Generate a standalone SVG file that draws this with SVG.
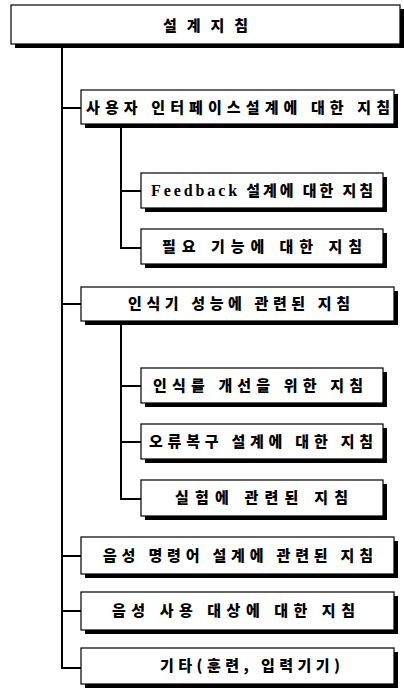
<svg xmlns="http://www.w3.org/2000/svg" width="404" height="690" viewBox="0 0 404 690">
<style>
.sh{fill:#000}
.bx{fill:#fff;stroke:#000;stroke-width:1.2}
.t{font-family:"Noto Sans CJK KR","Noto Sans",sans-serif;font-weight:900;font-size:15px;fill:#000}
.ser{font-family:"Liberation Serif","Noto Serif",serif;font-weight:700;font-size:16px}
.ln{stroke:#000;stroke-width:2;fill:none}
</style>
<rect width="404" height="690" fill="#fff"/>
<g id="connectors">
<path class="ln" d="M62 44 V668 H81"/>
<path class="ln" d="M62 108 H81 M62 304 H81 M62 556 H81 M62 611 H81"/>
<path class="ln" d="M121 124 V248 H141 M121 191 H141"/>
<path class="ln" d="M121 321 V499 H141 M121 386 H141 M121 442 H141"/>
</g>
<g id="n0"><rect class="sh" x="15" y="9" width="389" height="39"/><rect class="bx" x="11" y="5" width="389" height="39"/><text class="t" x="163" y="31" font-size="17" textLength="85" lengthAdjust="spacing">설계지침</text></g>
<g id="n1"><rect class="sh" x="85" y="94" width="313" height="34"/><rect class="bx" x="81" y="90" width="313" height="34"/><text class="t" x="86" y="113" textLength="304" lengthAdjust="spacing">사용자 인터페이스설계에 대한 지침</text></g>
<g id="n1a"><rect class="sh" x="145" y="177" width="242" height="35"/><rect class="bx" x="141" y="173" width="242" height="35"/><text class="t" x="151" y="196" textLength="222" lengthAdjust="spacing"><tspan class="ser">Feedback</tspan> 설계에 대한 지침</text></g>
<g id="n1b"><rect class="sh" x="145" y="233" width="242" height="35"/><rect class="bx" x="141" y="229" width="242" height="35"/><text class="t" x="162" y="252" textLength="200" lengthAdjust="spacing">필요 기능에 대한 지침</text></g>
<g id="n2"><rect class="sh" x="85" y="291" width="313" height="34"/><rect class="bx" x="81" y="287" width="313" height="34"/><text class="t" x="128" y="309" textLength="222" lengthAdjust="spacing">인식기 성능에 관련된 지침</text></g>
<g id="n2a"><rect class="sh" x="145" y="372" width="242" height="35"/><rect class="bx" x="141" y="368" width="242" height="35"/><text class="t" x="153" y="391" textLength="210" lengthAdjust="spacing">인식률 개선을 위한 지침</text></g>
<g id="n2b"><rect class="sh" x="145" y="428" width="242" height="35"/><rect class="bx" x="141" y="424" width="242" height="35"/><text class="t" x="149" y="447" textLength="224" lengthAdjust="spacing">오류복구 설계에 대한 지침</text></g>
<g id="n2c"><rect class="sh" x="145" y="484" width="242" height="36"/><rect class="bx" x="141" y="480" width="242" height="36"/><text class="t" x="175" y="503" textLength="173" lengthAdjust="spacing">실험에 관련된 지침</text></g>
<g id="n3"><rect class="sh" x="85" y="541" width="313" height="37"/><rect class="bx" x="81" y="537" width="313" height="37"/><text class="t" x="103" y="561" textLength="270" lengthAdjust="spacing">음성 명령어 설계에 관련된 지침</text></g>
<g id="n4"><rect class="sh" x="85" y="596" width="313" height="38"/><rect class="bx" x="81" y="592" width="313" height="38"/><text class="t" x="112" y="616" textLength="243" lengthAdjust="spacing">음성 사용 대상에 대한 지침</text></g>
<g id="n5"><rect class="sh" x="85" y="652" width="313" height="36"/><rect class="bx" x="81" y="648" width="313" height="36"/><text class="t" x="160" y="671" textLength="180" lengthAdjust="spacing">기타(훈련, 입력기기)</text></g>
</svg>
